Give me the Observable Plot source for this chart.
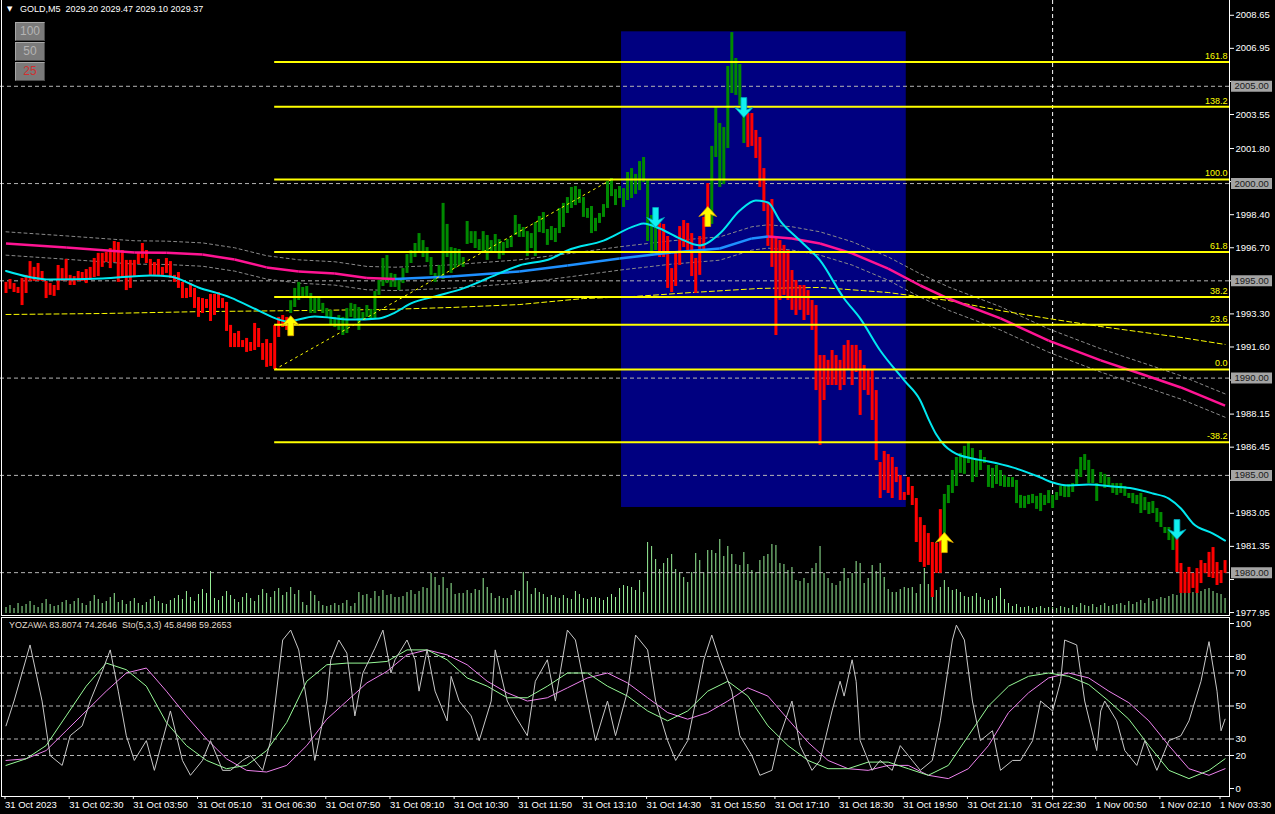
<!DOCTYPE html>
<html>
<head>
<meta charset="utf-8">
<script src="https://cdn.jsdelivr.net/npm/d3@7"></script>
<script src="https://cdn.jsdelivr.net/npm/@observablehq/plot@0.6"></script>
<style>
html,body{margin:0;padding:0;background:#000;}
#chart{position:relative;width:1275px;height:814px;background:#000;overflow:hidden;font-family:"Liberation Sans",Arial,sans-serif;}
#chart svg{position:absolute;overflow:visible;}
.frame{position:absolute;border:1px solid #fff;box-sizing:border-box;pointer-events:none;}
.title{position:absolute;left:20px;top:4px;color:#fff;font-size:9px;white-space:pre;}
.tri{position:absolute;left:7px;top:5px;color:#fff;font-size:7px;font-family:"DejaVu Sans",sans-serif;}
.btn{position:absolute;left:15px;width:30px;height:19px;background:#7a7a7a;border:1px solid;border-color:#a8a8a8 #4a4a4a #4a4a4a #a8a8a8;box-sizing:border-box;color:#b4b4b4;font-size:12px;text-align:center;line-height:17px;}
.osclabel{position:absolute;left:9px;top:620px;color:#e2dccc;font-size:9px;white-space:pre;}
</style>
</head>
<body>
<div id="chart"></div>
<script>
// ---------------- DATA ----------------
const symbolTitle = "GOLD,M5  2029.20 2029.47 2029.10 2029.37";
const oscTitle = "YOZAWA 83.8074 74.2646  Sto(5,3,3) 45.8498 59.2653";

// bar highs / lows (one per M5 bar, index 0 = 31 Oct 01:10)
const highs = [
1994.92,1995.07,1994.86,1994.66,1995.12,1995.28,1995.99,1995.69,1995.89,1995.48,
1994.97,1994.86,1994.76,1995.79,1995.63,1996.10,1995.28,1995.22,1995.48,1995.43,
1995.58,1995.69,1996.15,1996.41,1996.41,1996.46,1996.66,1997.02,1996.97,1996.56,
1996.05,1996.05,1996.05,1996.46,1996.92,1996.56,1996.10,1995.94,1996.10,1995.69,
1996.15,1995.99,1995.28,1995.43,1994.92,1994.61,1994.86,1994.61,1994.14,1994.09,
1994.04,1994.30,1994.30,1994.40,1994.09,1993.89,1992.71,1992.29,1992.40,1991.93,
1992.04,1991.83,1992.81,1992.55,1991.78,1991.98,1991.78,1992.71,1993.12,1993.22,
1993.12,1993.98,1994.61,1994.92,1994.66,1994.71,1994.35,1994.09,1994.09,1993.84,
1993.58,1993.48,1993.12,1993.22,1993.12,1993.58,1993.84,1993.78,1993.63,1993.37,
1993.73,1993.53,1994.45,1995.02,1996.15,1996.30,1995.38,1995.33,1995.12,1995.63,
1996.35,1996.56,1996.92,1997.43,1997.07,1996.71,1996.20,1995.38,1995.79,1998.98,
1997.90,1996.71,1996.66,1996.61,1996.20,1998.05,1997.53,1997.53,1997.12,1997.53,
1997.33,1997.07,1997.38,1997.12,1996.97,1997.12,1997.28,1998.36,1997.90,1997.74,
1997.53,1997.43,1998.00,1998.31,1998.51,1997.64,1997.79,1997.69,1998.72,1998.98,
1999.28,1999.80,1999.85,1999.69,1999.28,1998.72,1998.82,1998.21,1998.46,1998.92,
2000.11,2000.26,1999.69,1999.85,1999.74,2000.57,2000.77,2000.47,2001.13,2001.34,
2000.21,1998.36,1998.51,1997.95,1997.90,1997.28,1995.63,1996.41,1997.79,1998.10,
1997.95,1997.43,1996.15,1997.28,1998.26,2000.00,2001.91,2003.91,2003.09,2002.88,
2006.02,2007.76,2006.43,2006.12,2004.12,2003.60,2003.60,2002.73,2002.37,2000.77,
1999.03,1999.18,1997.23,1997.07,1996.82,1996.56,1995.53,1995.02,1994.76,1994.76,
1994.50,1993.99,1993.73,1991.16,1991.16,1990.91,1991.42,1991.16,1990.91,1991.68,
1991.93,1991.68,1991.68,1991.42,1990.65,1990.39,1990.39,1989.36,1985.66,1986.23,
1986.07,1985.92,1985.41,1984.99,1984.12,1984.89,1984.43,1983.81,1982.83,1982.42,
1982.01,1981.55,1981.50,1983.24,1984.02,1984.48,1985.25,1985.92,1986.13,1986.49,
1986.64,1986.38,1985.82,1986.28,1985.92,1985.51,1985.36,1985.51,1985.25,1984.99,
1984.89,1984.89,1984.74,1983.97,1983.92,1983.97,1984.02,1983.92,1984.07,1983.97,
1984.22,1983.97,1984.12,1984.43,1984.48,1984.53,1984.58,1985.30,1985.92,1986.07,
1985.77,1985.30,1984.58,1985.15,1985.05,1984.89,1984.58,1984.58,1984.58,1984.43,
1984.07,1984.07,1983.97,1984.07,1983.86,1983.61,1983.66,1983.30,1983.09,1982.32,
1982.32,1982.06,1981.81,1980.47,1980.01,1980.27,1979.96,1980.21,1980.62,1980.47,
1981.04,1981.29,1980.52,1980.11,1980.62];
const lows = [
1994.35,1994.56,1994.40,1994.35,1993.73,1994.35,1994.97,1994.97,1994.97,1994.97,
1994.09,1994.25,1994.20,1994.50,1994.97,1994.97,1994.76,1994.76,1994.97,1994.97,
1994.86,1995.02,1995.17,1995.22,1995.69,1995.94,1995.63,1995.94,1994.92,1995.17,
1994.50,1994.61,1995.22,1995.84,1996.15,1995.89,1995.28,1995.28,1995.28,1995.28,
1995.38,1995.12,1994.92,1994.61,1994.09,1994.09,1994.14,1993.58,1993.12,1993.32,
1993.58,1992.91,1993.22,1993.58,1993.58,1992.40,1991.57,1991.57,1991.57,1991.57,
1991.32,1991.37,1991.42,1991.57,1990.91,1990.55,1990.60,1990.44,1992.09,1992.60,
1992.45,1993.32,1993.63,1993.99,1994.09,1994.09,1993.32,1993.32,1993.48,1993.32,
1993.06,1992.71,1992.60,1992.45,1992.19,1992.29,1993.12,1993.06,1992.45,1992.96,
1993.12,1993.06,1993.06,1994.25,1994.71,1994.86,1994.66,1994.66,1994.50,1994.86,
1995.38,1995.89,1996.20,1996.46,1996.20,1995.94,1995.28,1994.92,1995.12,1995.07,
1996.20,1995.38,1995.63,1995.79,1995.69,1996.87,1996.92,1996.66,1996.56,1996.41,
1996.05,1996.46,1996.41,1996.10,1996.30,1996.66,1996.71,1997.33,1997.23,1997.23,
1996.25,1996.66,1996.25,1997.48,1997.43,1996.82,1997.07,1996.97,1997.43,1997.74,
1998.46,1998.72,1998.87,1998.98,1998.26,1998.21,1997.43,1997.53,1997.95,1998.26,
1998.72,1999.33,1998.87,1999.23,1998.77,1999.13,1999.23,1999.44,1999.64,2000.05,
1997.02,1996.25,1996.56,1996.20,1996.20,1994.61,1994.40,1994.71,1995.79,1996.71,
1996.46,1995.22,1994.35,1995.28,1996.41,1997.74,1997.90,2001.34,1999.80,1999.95,
2001.80,2004.63,2004.53,2004.01,2002.06,2001.85,2001.91,2001.29,1999.80,1998.56,
1996.77,1995.69,1992.19,1993.99,1994.25,1993.99,1993.48,1993.22,1993.48,1992.96,
1993.22,1992.45,1989.36,1986.54,1988.85,1989.62,1989.62,1989.62,1989.36,1989.62,
1990.39,1989.62,1990.29,1988.08,1989.36,1989.11,1987.82,1985.76,1983.81,1984.22,
1984.07,1983.81,1984.63,1983.71,1983.71,1983.97,1983.45,1981.55,1980.52,1980.27,
1980.37,1978.72,1979.96,1979.96,1981.81,1983.55,1984.07,1984.43,1985.10,1985.05,
1985.61,1984.63,1984.89,1985.25,1985.61,1984.38,1984.33,1984.53,1984.43,1984.38,
1984.38,1984.38,1983.55,1983.30,1983.30,1983.50,1983.55,1983.25,1983.14,1983.45,
1983.55,1983.30,1983.71,1983.92,1983.86,1983.86,1984.12,1984.48,1984.89,1985.25,
1984.58,1984.58,1983.66,1984.58,1984.33,1984.43,1984.07,1983.97,1984.07,1983.92,
1983.81,1983.55,1983.50,1983.04,1983.19,1982.99,1983.04,1982.58,1982.32,1982.01,
1981.65,1981.14,1980.01,1978.93,1978.93,1978.93,1979.19,1978.93,1979.44,1979.96,
1979.75,1979.70,1979.34,1979.44,1979.96];
const volumes = [
6,8,5,10,7,9,12,8,6,10, 14,9,7,8,11,13,9,12,15,10, 8,12,18,14,10,12,16,20,11,13,
9,12,15,10,8,11,14,17,12,10, 9,13,15,18,14,22,16,12,19,24, 20,42,15,13,17,22,18,14,11,16,
20,15,12,18,24,20,16,22,25,18, 21,26,19,23,
11,8,22,18,12,8,7,8,10,8, 10,13,7,10,21,18,19,15,22,17, 23,18,19,16,16,17,21,23,19,22,
26,25,40,36,28,36,25,30,19,20, 20,23,20,24,23,35,26,20,15,17, 15,15,18,23,22,41,32,19,25,21,
19,16,18,16,15,18,15,14,22,19, 15,14,16,16,15,13,16,19,16,25, 28,27,26,23,33,21,71,67,54,44,
50,55,59,44,41,36,31,41,60,53, 41,63,63,60,74,57,67,59,49,48, 61,49,43,41,53,57,59,69,68,50,
49,43,46,33,32,
35,30,45,50,67,40,35,30,28,32,45,35,40,52,50,30,35,48,42,
50,36,24,21,21,24,26,25,26,20, 29,45,29,33,23,26,33,26,23,24, 21,17,16,17,20,16,14,13,15,17,
25,14,10,7,9,6,6,7,5,6, 7,5,6,6,5,7,6,5,8,6, 10,8,7,9,6,8,10,7,8,9,
10,8,12,9,11,13,10,15,12,14, 16,15,17,19,18,20,21,25,21,23, 22,24,25,22,20,19,15];

// trend signals (bar where colour flips, +1 up / -1 down) and arrows
const signalBars = [71, 163, 176, 185, 234, 292];
const signalDirs = [1, -1, 1, -1, 1, -1];
const arrowBars = [71, 162, 175, 184, 234, 292];
const arrowPrices = [1993.21, 1997.74, 1998.82, 2003.39, 1982.06, 1981.70];

// fast MA (cyan)
const fastMaBars = [0,11,24,36,41,48,56,63,68,70,77,86,93,97,101,107,114,120,128,136,140,149,157,159,163,168,173,178,183,187,190,193,198,203,209,213,218,224,228,230,232,234,236,238,241,245,251,258,261,265,270,276,281,286,290,293,296,301,304];
const fastMaPrices = [1995.51,1995.07,1995.12,1995.28,1995.22,1994.66,1994.14,1993.47,1993.01,1992.91,1993.17,1993.01,1993.07,1993.37,1993.84,1994.20,1994.61,1995.12,1995.79,1996.15,1996.56,1997.07,1997.84,1997.95,1997.69,1997.18,1996.82,1997.43,1998.61,1999.13,1999.03,1998.10,1997.07,1996.05,1994.09,1993.07,1991.42,1989.88,1988.85,1987.92,1987.10,1986.55,1986.22,1986.02,1985.87,1985.71,1985.41,1984.89,1984.63,1984.48,1984.53,1984.43,1984.33,1984.07,1983.81,1983.30,1982.53,1982.01,1981.65];
// slow MA (blue when rising, pink when falling) with envelope
const slowMaBars = [0,15,32,40,49,57,65,73,82,90,97,111,128,140,153,166,178,186,190,196,203,211,220,228,235,248,260,273,285,293,304];
const slowMaPrices = [1996.92,1996.71,1996.46,1996.44,1996.35,1996.10,1995.69,1995.48,1995.38,1995.14,1995.10,1995.22,1995.48,1995.79,1996.15,1996.46,1996.66,1997.18,1997.28,1997.18,1996.92,1996.41,1995.63,1994.76,1994.09,1993.07,1991.93,1990.91,1990.08,1989.52,1988.59];
const envelopeOffset = 0.6;
// long MA (yellow dashed)
const longMaBars = [0,24,49,73,95,111,128,144,157,171,188,203,220,235,248,260,273,293,304];
const longMaPrices = [1993.27,1993.32,1993.42,1993.47,1993.53,1993.63,1993.78,1994.09,1994.20,1994.40,1994.61,1994.66,1994.40,1993.99,1993.47,1993.06,1992.65,1992.09,1991.73];

// Fibonacci retracement
const fibLowBar = 67, fibLow = 1990.44, fibHighBar = 151, fibHigh = 2000.21;
const fibLevels = [161.8, 138.2, 100.0, 61.8, 38.2, 23.6, 0.0, -38.2];
// session box
const boxStartBar = 154, boxEndBar = 224, boxTop = 2007.8, boxBottom = 1983.35;
// round price levels & separator
const roundLevels = [2005, 2000, 1995, 1990, 1985, 1980];
const separatorBar = 261;

// oscillator
const yozawaBars = [0,2,6,9,11,14,16,19,21,24,26,28,30,32,35,37,41,44,46,49,51,54,56,59,61,64,66,69,71,73,75,76,77,80,81,83,85,87,89,92,94,96,97,100,102,103,105,107,110,111,113,116,118,121,122,125,127,130,132,135,137,140,142,145,147,150,152,155,157,160,162,165,167,170,172,174,176,178,181,183,186,188,191,193,196,198,201,203,206,208,209,211,212,213,216,218,221,223,226,228,231,233,236,237,239,241,243,246,248,251,253,256,258,261,263,264,267,269,272,273,274,277,279,282,284,287,288,290,293,295,298,300,302,303,304];
const yozawaValues = [38,53,87,53,20,14,32,38,53,71,84,59,32,17,29,11,47,17,8,17,29,11,11,17,20,11,29,90,96,84,53,35,17,53,78,90,82,44,70,85,96,70,78,90,78,59,84,59,41,68,53,44,29,53,84,53,44,32,65,78,53,96,90,53,29,53,32,59,93,84,53,29,17,29,53,78,93,78,59,32,20,8,11,32,53,26,11,17,47,65,56,78,65,29,11,17,11,26,17,11,17,41,90,99,90,53,29,35,11,17,17,29,53,47,65,90,87,53,23,47,53,41,23,14,29,11,17,29,32,41,65,89,59,35,42];
const stoBars = [0,5,10,15,20,25,30,35,40,45,50,55,60,65,70,75,80,85,90,95,100,105,110,115,120,125,130,135,140,145,150,155,160,165,170,175,180,185,190,195,200,205,210,215,220,225,230,235,240,245,250,255,260,265,270,275,280,285,290,295,300,304];
const stoMain = [14,18,26,44,62,76,72,62,40,26,17,12,14,23,40,65,75,76,76,77,84,84,78,67,62,55,55,62,70,70,62,56,47,41,47,59,65,56,38,26,17,12,12,16,16,12,8,14,32,50,62,68,70,68,63,53,42,26,11,6,11,18];
const stoSignal = [17,18,23,35,47,59,70,73,59,44,30,18,11,10,14,26,42,53,64,71,81,84,81,75,65,58,53,55,61,67,70,64,55,46,42,46,53,61,56,42,28,17,12,11,14,14,8,6,12,26,46,58,67,70,67,59,52,41,26,12,8,12];
const oscLevels = [20, 30, 50, 70, 80];
const oscTicks = [0, 20, 30, 50, 70, 80, 100];

// axes
const priceTicks = [2008.65,2006.95,2005.25,2003.55,2001.80,2000.10,1998.40,1996.70,1995.00,1993.30,1991.60,1989.90,1988.15,1986.45,1984.75,1983.05,1981.35,1979.65,1977.95];
const timeTickBars = [0,16,32,48,64,80,96,112,128,144,160,176,192,208,224,240,256,272,288,303];
const timeTickLabels = ["31 Oct 2023","31 Oct 02:30","31 Oct 03:50","31 Oct 05:10","31 Oct 06:30","31 Oct 07:50","31 Oct 09:10","31 Oct 10:30","31 Oct 11:50","31 Oct 13:10","31 Oct 14:30","31 Oct 15:50","31 Oct 17:10","31 Oct 18:30","31 Oct 19:50","31 Oct 21:10","31 Oct 22:30","1 Nov 00:50","1 Nov 02:10","1 Nov 03:30"];

// ---------------- BUILD ----------------
const xDomain = [-1.372, 305.11];
const priceDomain = [1977.90, 2009.41];
const FONT = '"Liberation Sans", Arial, sans-serif';
const baseStyle = {background: "transparent", color: "#fff", fontFamily: FONT, fontSize: "9.5px", overflow: "visible"};

function trendAt(i) { let t = -1; signalBars.forEach((b, k) => { if (i >= b) t = signalDirs[k]; }); return t; }
const bars = highs.map((h, i) => ({i, high: h, low: lows[i], color: trendAt(i) > 0 ? "#008a00" : "#ff0000"}));
const vols = volumes.map((v, i) => ({i, v}));
const fastMa = fastMaBars.map((b, k) => ({b, p: fastMaPrices[k]}));
const slowMa = slowMaBars.map((b, k) => ({b, p: slowMaPrices[k]}));
const slowSegs = d3.pairs(slowMa).map(([a, c]) => ({x1: a.b, y1: a.p, x2: c.b, y2: c.p, color: c.p >= a.p ? "#1e90ff" : "#ff1493"}));
const longMa = longMaBars.map((b, k) => ({b, p: longMaPrices[k]}));
const fibs = fibLevels.map(l => ({level: l, price: fibLow + (l / 100) * (fibHigh - fibLow)}));
const arrows = arrowBars.map((b, k) => ({b, p: arrowPrices[k], dir: signalDirs[k]}));
const yoz = yozawaBars.map((b, k) => ({b, v: yozawaValues[k]}));
const sto = stoBars.map((b, k) => ({b, m: stoMain[k], s: stoSignal[k]}));
// axis labels hidden behind the boxed round-level labels (as on the terminal)
const priceLabel = d => roundLevels.some(r => Math.abs(r - d) < 0.4) ? "" : d.toFixed(2);

const upArrow = {draw(ctx, size) { const s = Math.sqrt(size / Math.PI) / 9;
  ctx.moveTo(0, 0); ctx.lineTo(8*s, 9*s); ctx.lineTo(2.6*s, 7*s); ctx.lineTo(2.6*s, 18*s);
  ctx.lineTo(-2.6*s, 18*s); ctx.lineTo(-2.6*s, 7*s); ctx.lineTo(-8*s, 9*s); ctx.closePath(); }};
const downArrow = {draw(ctx, size) { const s = Math.sqrt(size / Math.PI) / 9;
  ctx.moveTo(0, 0); ctx.lineTo(8*s, -9*s); ctx.lineTo(2.6*s, -7*s); ctx.lineTo(2.6*s, -18*s);
  ctx.lineTo(-2.6*s, -18*s); ctx.lineTo(-2.6*s, -7*s); ctx.lineTo(-8*s, -9*s); ctx.closePath(); }};

const chart = d3.select("#chart");
function place(svg, left, top) { svg.style.left = left + "px"; svg.style.top = top + "px"; chart.node().appendChild(svg); }

// volume layer
place(Plot.plot({
  width: 1275, height: 616, marginLeft: 0, marginRight: 46, marginTop: 0, marginBottom: 3,
  x: {domain: xDomain, axis: null}, y: {domain: [0, 613], axis: null}, style: baseStyle,
  marks: [Plot.ruleX(vols, {x: "i", y1: 0, y2: "v", stroke: "#98f098", strokeWidth: 1})]
}), 0, 0);

// main price layer
place(Plot.plot({
  width: 1275, height: 616, marginLeft: 0, marginRight: 46, marginTop: 0, marginBottom: 3,
  x: {domain: xDomain, axis: null}, y: {domain: priceDomain, axis: null},
  color: {type: "identity"}, style: baseStyle,
  marks: [
    Plot.rect([{a: boxStartBar - 0.5, b: boxEndBar + 0.5, t: boxTop, u: boxBottom}], {x1: "a", x2: "b", y1: "u", y2: "t", fill: "#000080"}),
    Plot.ruleY(roundLevels, {stroke: "#b4b4b4", strokeDasharray: "4,3", strokeWidth: 1}),
    Plot.ruleX([separatorBar], {stroke: "#ffffff", strokeDasharray: "4,3", strokeWidth: 1}),
    Plot.line(slowMa, {x: "b", y: d => d.p + envelopeOffset, stroke: "#8a8a8a", strokeDasharray: "3,3", strokeWidth: 1}),
    Plot.line(slowMa, {x: "b", y: d => d.p - envelopeOffset, stroke: "#8a8a8a", strokeDasharray: "3,3", strokeWidth: 1}),
    Plot.line(longMa, {x: "b", y: "p", stroke: "#ffff00", strokeDasharray: "5,3", strokeWidth: 1}),
    Plot.ruleX(bars, {x: "i", y1: "low", y2: "high", stroke: "color", strokeWidth: 3}),
    Plot.link(slowSegs, {x1: "x1", y1: "y1", x2: "x2", y2: "y2", stroke: "color", strokeWidth: 2.5}),
    Plot.line(fastMa, {x: "b", y: "p", stroke: "#00e8f0", strokeWidth: 2, curve: "monotone-x"}),
    Plot.ruleY(fibs, {y: "price", x1: fibLowBar, x2: xDomain[1], stroke: "#ffff00", strokeWidth: 2}),
    Plot.line([{b: fibLowBar, p: fibLow}, {b: fibHighBar, p: fibHigh}], {x: "b", y: "p", stroke: "#ffff00", strokeDasharray: "2,4", strokeWidth: 1}),
    Plot.text(fibs, {y: "price", text: d => d.level.toFixed(1), frameAnchor: "right", textAnchor: "end", dx: -2, dy: -6, fill: "#ffff00", fontSize: 9}),
    Plot.dot(arrows.filter(d => d.dir > 0), {x: "b", y: "p", symbol: upArrow, r: 10, fill: "#ffff00", stroke: "#e0a000", strokeWidth: 0.8}),
    Plot.dot(arrows.filter(d => d.dir < 0), {x: "b", y: "p", symbol: downArrow, r: 10, fill: "#10f0f0", stroke: "#00a8c0", strokeWidth: 0.8}),
    Plot.axisY({anchor: "right", ticks: priceTicks, tickFormat: priceLabel, tickSize: 4, tickPadding: 2, stroke: "#fff", fill: "#fff", label: null})
  ]
}), 0, 0);

// boxed round-level labels on the price axis
place(Plot.plot({
  width: 46, height: 616, marginLeft: 2, marginRight: 3, marginTop: 0, marginBottom: 3,
  y: {domain: priceDomain, axis: null}, style: baseStyle,
  marks: [
    Plot.ruleY(roundLevels, {stroke: "#a4a4a4", strokeWidth: 11}),
    Plot.text(roundLevels, {y: d => d, text: d => d.toFixed(2), frameAnchor: "left", textAnchor: "start", dx: 3, fill: "#1a1a1a"})
  ]
}), 1229, 0);

// oscillator
place(Plot.plot({
  width: 1275, height: 180, marginLeft: 0, marginRight: 46, marginTop: 7, marginBottom: 8,
  x: {domain: xDomain, axis: null}, y: {domain: [0, 100], axis: null}, style: baseStyle,
  marks: [
    Plot.ruleY(oscLevels, {stroke: "#b4b4b4", strokeDasharray: "4,3", strokeWidth: 1}),
    Plot.ruleX([separatorBar], {y1: -7, y2: 104, stroke: "#ffffff", strokeDasharray: "4,3", strokeWidth: 1}),
    Plot.line(sto, {x: "b", y: "s", stroke: "#ee82ee", strokeWidth: 1}),
    Plot.line(sto, {x: "b", y: "m", stroke: "#98fb98", strokeWidth: 1}),
    Plot.line(yoz, {x: "b", y: "v", stroke: "#c8c8c8", strokeWidth: 1}),
    Plot.axisY({anchor: "right", ticks: oscTicks, tickFormat: d => String(d), tickSize: 4, tickPadding: 2, stroke: "#fff", fill: "#fff", label: null})
  ]
}), 0, 616);

// time axis
place(Plot.plot({
  width: 1275, height: 24, marginLeft: 0, marginRight: 46, marginTop: 0, marginBottom: 18,
  x: {domain: xDomain, axis: null}, y: {axis: null}, style: baseStyle,
  marks: [
    Plot.axisX({anchor: "bottom", ticks: timeTickBars, tickFormat: d => timeTickLabels[timeTickBars.indexOf(d)], tickSize: 3, tickPadding: 2, textAnchor: "start", dx: -1, stroke: "#fff", fill: "#fff", label: null})
  ]
}), 0, 790);

// frames and header text
chart.append("div").attr("class", "frame").style("left", "1px").style("top", "-1px").style("width", "1229px").style("height", "617px");
chart.append("div").attr("class", "frame").style("left", "1px").style("top", "617px").style("width", "1229px").style("height", "180px");
chart.append("div").attr("class", "tri").text("▼");
chart.append("div").attr("class", "title").text(symbolTitle);
[["100", 22, "#b4b4b4"], ["50", 42, "#b4b4b4"], ["25", 62, "#d03030"]].forEach(([t, top, c]) =>
  chart.append("div").attr("class", "btn").style("top", top + "px").style("color", c).text(t));
chart.append("div").attr("class", "osclabel").text(oscTitle);
</script>
</body>
</html>
